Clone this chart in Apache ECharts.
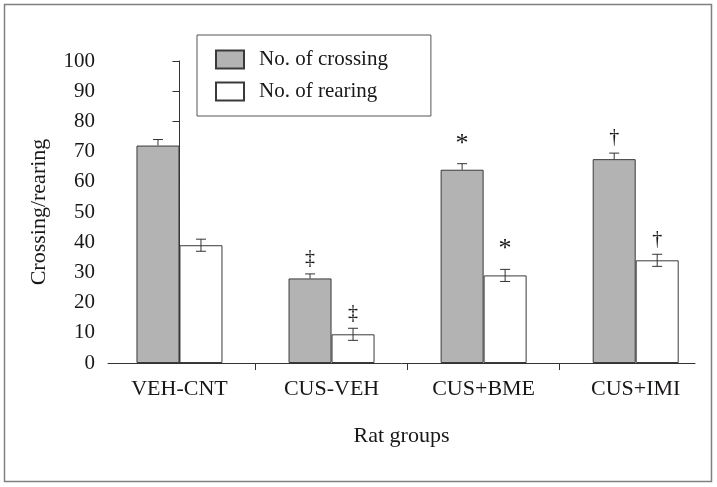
<!DOCTYPE html>
<html>
<head>
<meta charset="utf-8">
<script src="https://cdn.jsdelivr.net/npm/echarts@6/dist/echarts.min.js"></script>
<style>
  html, body { margin: 0; padding: 0; background: #fff; }
  #chart { width: 717px; height: 487px; }
</style>
</head>
<body>
<div id="chart"></div>
<script>
// data
var groups = ['VEH-CNT', 'CUS-VEH', 'CUS+BME', 'CUS+IMI'];
var crossing = [72, 28, 64, 67.5];
var crossingErr = [2, 1.5, 2, 2];
var rearing = [39, 9.5, 29, 34];
var rearingErr = [2, 2, 2, 2];
var crossingMarks = ['', '‡', '*', '†'];
var rearingMarks = ['', '‡', '*', '†'];
var yTicks = [0, 10, 20, 30, 40, 50, 60, 70, 80, 90, 100];

var FONT = "'Liberation Serif', 'DejaVu Serif', serif";
var INK = '#1a1718';
var BAR_W = 43;

var myChart = echarts.init(document.getElementById('chart'));

function pairs(vals, errs, marks) {
    return vals.map(function (v, i) { return [i, v, errs[i], marks[i]]; });
}

// error bar + significance mark, shifted to sit over its own bar
function errRenderer(shift, full) {
    return function (params, api) {
        var x = api.value(0), v = api.value(1), e = api.value(2);
        var mark = api.value(3);
        var mid = api.coord([x, v]);
        var top = api.coord([x, v + e]);
        var bot = api.coord([x, v - e]);
        var cx = mid[0] + shift;
        var cap = 5;
        var ls = { stroke: '#333', lineWidth: 1 };
        var kids = [
            { type: 'line', shape: { x1: cx, y1: top[1], x2: cx, y2: full ? bot[1] : mid[1] }, style: ls },
            { type: 'line', shape: { x1: cx - cap, y1: top[1], x2: cx + cap, y2: top[1] }, style: ls }
        ];
        if (full) {
            kids.push({ type: 'line', shape: { x1: cx - cap, y1: bot[1], x2: cx + cap, y2: bot[1] }, style: ls });
        }
        if (mark) {
            var star = mark === '*';
            kids.push({
                type: 'text',
                style: {
                    x: cx, y: top[1] - (star ? 20 : 15), text: mark,
                    fill: INK, font: (star ? '26px ' : '20px ') + FONT,
                    align: 'center', verticalAlign: 'middle'
                }
            });
        }
        return { type: 'group', children: kids };
    };
}

var option = {
    animation: false,
    textStyle: { fontFamily: FONT, color: INK },
    graphic: [{
        type: 'rect',
        shape: { x: 4.5, y: 4.5, width: 707, height: 477 },
        style: { fill: 'none', stroke: '#808080', lineWidth: 1.5 },
        silent: true
    }],
    legend: {
        orient: 'vertical',
        left: 197,
        top: 35,
        padding: [14, 43, 14, 18],
        itemWidth: 28,
        itemHeight: 18,
        itemGap: 11,
        borderColor: '#555',
        borderWidth: 1,
        icon: 'rect',
        textStyle: { fontFamily: FONT, fontSize: 21, color: INK, padding: [0, 0, 0, 10] },
        data: ['No. of crossing', 'No. of rearing']
    },
    grid: { left: 108, right: 22, top: 61, bottom: 124 },
    xAxis: {
        type: 'value',
        min: -0.47,
        max: 3.39,
        splitLine: { show: false },
        axisLine: { show: true, lineStyle: { color: '#333', width: 1 } },
        axisTick: { show: true, length: 7, lineStyle: { color: '#333' }, customValues: [0.5, 1.5, 2.5] },
        axisLabel: {
            customValues: [0, 1, 2, 3],
            margin: 15,
            fontFamily: FONT, fontSize: 22, color: INK,
            formatter: function (v) { return groups[Math.round(v)]; }
        },
        name: 'Rat groups',
        nameLocation: 'middle',
        nameGap: 62,
        nameTextStyle: { fontFamily: FONT, fontSize: 22, color: INK }
    },
    yAxis: {
        type: 'value',
        min: yTicks[0],
        max: yTicks[yTicks.length - 1],
        interval: 10,
        splitLine: { show: false },
        axisLine: { show: true, lineStyle: { color: '#333', width: 1 } },
        axisTick: { show: true, length: 7, lineStyle: { color: '#333' } },
        axisLabel: { margin: 13, fontFamily: FONT, fontSize: 21, color: INK },
        name: 'Crossing/rearing',
        nameLocation: 'middle',
        nameGap: 58,
        nameTextStyle: { fontFamily: FONT, fontSize: 22, color: INK }
    },
    series: [
        {
            name: 'No. of crossing',
            type: 'bar',
            barWidth: BAR_W,
            barGap: '0%',
            itemStyle: { color: '#b3b3b3', borderColor: '#3a3a3a', borderWidth: 1 },
            data: crossing.map(function (v, i) { return [i, v]; })
        },
        {
            name: 'No. of rearing',
            type: 'bar',
            barWidth: BAR_W,
            barGap: '0%',
            itemStyle: { color: '#ffffff', borderColor: '#3a3a3a', borderWidth: 1 },
            data: rearing.map(function (v, i) { return [i, v]; })
        },
        {
            type: 'custom',
            z: 5,
            renderItem: errRenderer(-BAR_W / 2, false),
            data: pairs(crossing, crossingErr, crossingMarks)
        },
        {
            type: 'custom',
            z: 5,
            renderItem: errRenderer(BAR_W / 2, true),
            data: pairs(rearing, rearingErr, rearingMarks)
        }
    ]
};

myChart.setOption(option);
</script>
</body>
</html>
